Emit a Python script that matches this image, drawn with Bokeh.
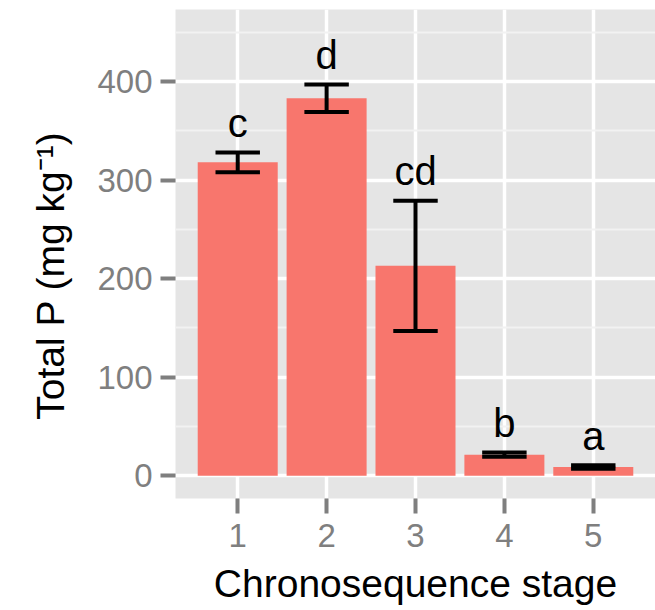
from bokeh.plotting import figure
from bokeh.models import Range1d, FixedTicker, ColumnDataSource
from bokeh.core.properties import value
from bokeh.embed import file_html
from bokeh.resources import INLINE

# ---- data ----
stages = ["1", "2", "3", "4", "5"]
means = [318, 383, 213, 21.5, 9]
ses = [10, 14, 66, 2.2, 1.8]
letters = ["c", "d", "cd", "b", "a"]
y_ticks = [0, 100, 200, 300, 400]
y_minor = [50, 150, 250, 350, 450]

xs = list(range(1, len(stages) + 1))
lower = [m - s for m, s in zip(means, ses)]
upper = [m + s for m, s in zip(means, ses)]
LABEL_PAD = 30  # gap (data units) between error-bar top and letter anchor

src = ColumnDataSource(dict(
    x=xs, mean=means, lower=lower, upper=upper,
    left=[x - 0.25 for x in xs], right=[x + 0.25 for x in xs],
    label_y=[u + LABEL_PAD for u in upper],
    letter=letters,
))

FONT = "Liberation Sans"

p = figure(width=655, height=610, output_backend="svg", toolbar_location=None,
           x_range=Range1d(0.3, 5.7), y_range=Range1d(-23, 473),
           min_border_left=175, min_border_right=0, min_border_top=9,
           min_border_bottom=112)
p.background_fill_color = "#E5E5E5"
p.border_fill_color = "white"
p.outline_line_color = None

p.vbar(x="x", top="mean", bottom=0, width=0.9, source=src,
       fill_color="#F8766D", line_color=None)
p.segment(x0="x", x1="x", y0="lower", y1="upper", source=src,
          line_color="black", line_width=4)
p.segment(x0="left", x1="right", y0="upper", y1="upper", source=src,
          line_color="black", line_width=4)
p.segment(x0="left", x1="right", y0="lower", y1="lower", source=src,
          line_color="black", line_width=4)
p.text(x="x", y="label_y", text="letter", source=src,
       text_font=value(FONT), text_font_size="40px", text_align="center",
       text_baseline="alphabetic", text_color="black")

# axes
p.xaxis.ticker = FixedTicker(ticks=xs)
p.xaxis.major_label_overrides = {x: s for x, s in zip(xs, stages)}
p.yaxis.ticker = FixedTicker(ticks=y_ticks, minor_ticks=y_minor)

for ax in (p.xaxis, p.yaxis):
    ax.axis_line_color = None
    ax.major_tick_line_color = "#7F7F7F"
    ax.major_tick_line_width = 4
    ax.major_tick_out = 15
    ax.major_tick_in = 0
    ax.minor_tick_line_color = None
    ax.major_label_text_font = FONT
    ax.major_label_text_font_size = "33px"
    ax.major_label_text_color = "#7F7F7F"
    ax.axis_label_text_font = FONT
    ax.axis_label_text_font_size = "39px"
    ax.axis_label_text_font_style = "normal"
    ax.axis_label_text_color = "black"

p.xaxis.axis_label = "Chronosequence stage"
p.yaxis.axis_label = "Total P (mg kg⁻¹)" + "\u00a0" * 4
p.xaxis.major_label_standoff = 10
p.yaxis.major_label_standoff = 8
p.xaxis.axis_label_standoff = 12
p.yaxis.axis_label_standoff = 22

# grids
p.xgrid.grid_line_color = "white"
p.xgrid.grid_line_width = 3.5
p.ygrid.grid_line_color = "white"
p.ygrid.grid_line_width = 3.5
p.ygrid.minor_grid_line_color = "#F2F2F2"
p.ygrid.minor_grid_line_width = 1.8

open("out.html", "w").write(file_html(p, INLINE))
